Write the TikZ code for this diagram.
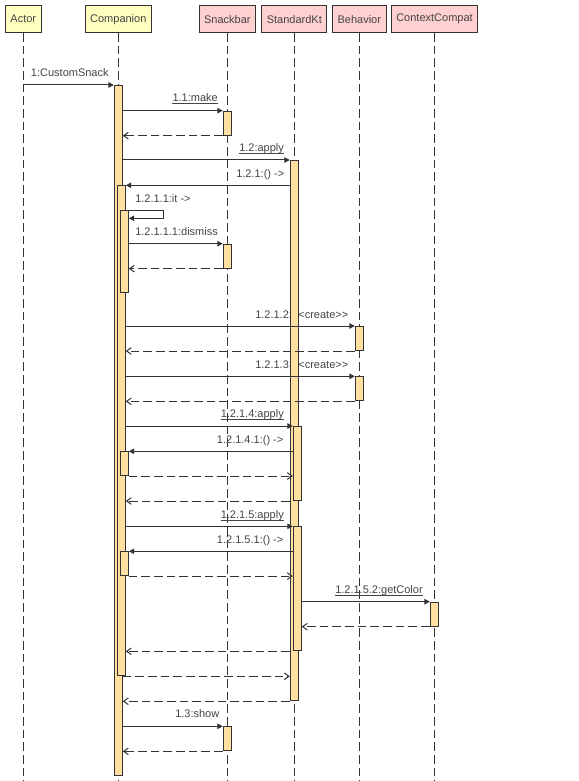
\documentclass[tikz,border=0pt]{standalone}
\usepackage{fontspec}
\setmainfont{Liberation Sans}
\usetikzlibrary{arrows.meta}
\definecolor{linec}{HTML}{333333}
\definecolor{textc}{HTML}{444444}
\definecolor{headyel}{HTML}{FFFFC0}
\definecolor{headpink}{HTML}{FFD0D0}
\definecolor{actfill}{HTML}{FFE0A0}
\begin{document}
\begin{tikzpicture}[x=0.75pt, y=-0.75pt, font=\fontsize{8.25}{10}\selectfont, text=textc,
  head/.style={draw=linec, line width=0.75pt, minimum height=19.9pt, inner xsep=3.75pt, inner ysep=0pt},
  life/.style={draw=linec, line width=0.75pt, dash pattern=on 6.5pt off 3pt},
  act/.style={draw=linec, fill=actfill, line width=0.75pt, minimum width=6pt, inner sep=0pt, anchor=north},
  msg/.style={anchor=base west, inner sep=0pt},
  sync/.style={draw=linec, line width=0.75pt, -{Triangle[length=4pt,width=4pt]}},
  ret/.style={draw=linec, line width=0.75pt, dash pattern=on 6.5pt off 3pt, -{Straight Barb[length=3.5pt,width=5pt]}},
  uline/.style={draw=textc, line width=0.6pt}]
\useasboundingbox (0,0) rectangle (578,781);
\coordinate (bottom) at (0,781);
\node[head, fill=headyel] (actor) at (23.3,19.25) {Actor};
\node[head, fill=headyel] (companion) at (118.3,19.25) {Companion};
\node[head, fill=headpink] (snackbar) at (227.3,19.25) {Snackbar};
\node[head, fill=headpink] (standardkt) at (294.3,19.25) {StandardKt};
\node[head, fill=headpink] (behavior) at (359.3,19.25) {Behavior};
\node[head, fill=headpink] (contextcompat) at (434.5,19.25) {ContextCompat};
\draw[life] (actor.south) -- (actor.south |- bottom); \draw[life] (companion.south) -- (companion.south |- bottom);
\draw[life] (snackbar.south) -- (snackbar.south |- bottom); \draw[life] (standardkt.south) -- (standardkt.south |- bottom);
\draw[life] (behavior.south) -- (behavior.south |- bottom); \draw[life] (contextcompat.south) -- (contextcompat.south |- bottom);
\node[msg] (customsnack) at (30.7,76.3) {1:CustomSnack};
\node[msg] (make) at (172.3,101.7) {1.1:make};
\node[msg] (apply) at (239,151.5) {1.2:apply};
\node[msg] (callback) at (236,177) {1.2.1:() ->};
\node[msg] (itcall) at (135,202) {1.2.1.1:it ->};
\node[msg] (dismiss) at (135,235) {1.2.1.1.1:dismiss};
\node[msg] (createa) at (255,318) {1.2.1.2:<{}<create>{}>};
\node[msg] (createb) at (255,368) {1.2.1.3:<{}<create>{}>};
\node[msg] (applyb) at (220.5,417.5) {1.2.1.4:apply};
\node[msg] (callbackb) at (216.7,443) {1.2.1.4.1:() ->};
\node[msg] (applyc) at (220.5,518) {1.2.1.5:apply};
\node[msg] (callbackc) at (216.7,543) {1.2.1.5.1:() ->};
\node[msg] (getcolor) at (335,593.2) {1.2.1.5.2:getColor};
\node[msg] (show) at (175,717.5) {1.3:show};
\foreach \m in {make,apply,applyb,applyc,getcolor} \draw[uline] ([yshift=-1.6pt]\m.base west) -- ([yshift=-1.6pt]\m.base east);
\node[act, minimum height=517.7pt] (cm) at (118.3,85) {};
\node[act, minimum height=367.5pt] (cn1) at (121.3,185.3) {};
\node[act, minimum height=61.5pt] (cn2) at (124.3,210.3) {};
\node[act, minimum height=17.8pt] (cn3) at (124.3,451.3) {};
\node[act, minimum height=17.8pt] (cn4) at (124.3,551.3) {};
\node[act, minimum height=18pt] (sb1) at (227.3,110.7) {};
\node[act, minimum height=18pt] (sb2) at (227.3,243.7) {};
\node[act, minimum height=18pt] (sb3) at (227.3,726.3) {};
\node[act, minimum height=405.2pt] (sk) at (294.3,160) {};
\node[act, minimum height=55.5pt] (sk1) at (297.3,426) {};
\node[act, minimum height=93pt] (sk2) at (297.3,526.3) {};
\node[act, minimum height=18pt] (bh1) at (359.3,326) {};
\node[act, minimum height=18pt] (bh2) at (359.3,376.3) {};
\node[act, minimum height=18pt] (cc1) at (434.3,601.7) {};
\draw[sync] (actor.south |- cm.north) -- (cm.north west);
\draw[sync] (cm.east |- sb1.north) -- (sb1.north west); \draw[ret] (sb1.south west) -- (cm.east |- sb1.south);
\draw[sync] (cm.east |- sk.north) -- (sk.north west);
\draw[sync] (sk.west |- cn1.north) -- (cn1.north east);
\draw[sync] (cn1.east |- cn2.north) -- ++(37.4,0) |- ([yshift=-6pt]cn2.north east);
\draw[sync] (cn2.east |- sb2.north) -- (sb2.north west); \draw[ret] (sb2.south west) -- (cn2.east |- sb2.south);
\draw[sync] (cn1.east |- bh1.north) -- (bh1.north west); \draw[ret] (bh1.south west) -- (cn1.east |- bh1.south);
\draw[sync] (cn1.east |- bh2.north) -- (bh2.north west); \draw[ret] (bh2.south west) -- (cn1.east |- bh2.south);
\draw[sync] (cn1.east |- sk1.north) -- (sk1.north west);
\draw[sync] (sk1.west |- cn3.north) -- (cn3.north east); \draw[ret] (cn3.south east) -- (sk1.west |- cn3.south);
\draw[ret] (sk.west |- sk1.south) -- (cn1.east |- sk1.south);
\draw[sync] (cn1.east |- sk2.north) -- (sk2.north west);
\draw[sync] (sk2.west |- cn4.north) -- (cn4.north east); \draw[ret] (cn4.south east) -- (sk2.west |- cn4.south);
\draw[sync] (sk2.east |- cc1.north) -- (cc1.north west); \draw[ret] (cc1.south west) -- (sk2.east |- cc1.south);
\draw[ret] (sk.west |- sk2.south) -- (cn1.east |- sk2.south);
\draw[ret] (cm.east |- cn1.south) -- (sk.west |- cn1.south);
\draw[ret] (sk.south west) -- (cm.east |- sk.south);
\draw[sync] (cm.east |- sb3.north) -- (sb3.north west); \draw[ret] (sb3.south west) -- (cm.east |- sb3.south);
\end{tikzpicture}
\end{document}
